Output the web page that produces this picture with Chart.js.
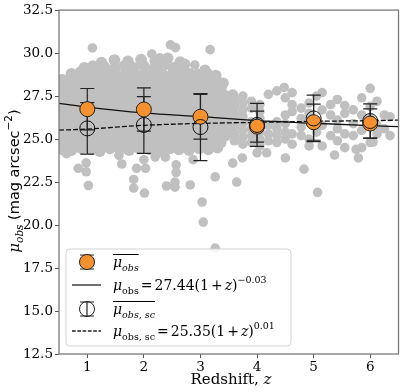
<!DOCTYPE html>
<html>
<head>
<meta charset="utf-8">
<script src="https://cdn.jsdelivr.net/npm/chart.js@4/dist/chart.umd.min.js"></script>
<style>
  html, body { margin: 0; padding: 0; background: #fff; }
  #wrap { width: 407px; height: 392px; }
</style>
</head>
<body>
<div id="wrap"><canvas id="chart" width="407" height="392"></canvas></div>
<script>
// binned means
const zBins = [1, 2, 3, 4, 5, 6];
const muObs = [26.74, 26.72, 26.3, 25.72, 25.98, 25.9];
const muObsErr = [1.2, 1.26, 1.3, 0.9, 1.05, 0.85];
const muSc = [25.62, 25.82, 25.7, 25.82, 26.2, 26.05];
const muScErr = [1.5, 1.65, 1.95, 1.25, 1.35, 1.0];

// fitted curves
const fitZ = [0.5, 1, 2, 3, 4, 5, 6, 6.5];
const fitObs = [27.08, 26.86, 26.52, 26.3, 26.07, 25.92, 25.78, 25.72];
const fitSc = [25.52, 25.58, 25.8, 25.91, 25.97, 26.03, 26.07, 26.1];

const yTicks = [12.5, 15.0, 17.5, 20.0, 22.5, 25.0, 27.5, 30.0, 32.5];
const xTicks = [1, 2, 3, 4, 5, 6];

// individual galaxies [z, mu]: the crowded low-z cloud
const cloudCore = [
  [1.25,29.45],[1.48,29.6],[1.72,29.52],[1.95,29.62],[2.2,29.55],[2.42,29.7],[2.64,29.48],
  [0.95,29.15],[1.1,29.25],[1.3,29.2],[1.48,29.1],[1.65,29.25],[1.82,29.15],[2.0,29.25],[2.18,29.1],[2.35,29.3],[2.52,29.15],[2.72,29.35],[3.08,29.0],
  [0.72,28.8],[0.88,28.9],[1.04,28.75],[1.2,28.85],[1.36,28.8],[1.52,28.7],[1.68,28.85],[1.84,28.8],[2.0,28.75],[2.16,28.85],[2.32,28.8],[2.48,28.7],[2.64,28.85],[2.8,28.8],[2.96,28.75],[3.12,28.8],[3.27,28.7],
  [0.56,28.45],[0.7,28.35],[0.86,28.4],[1.02,28.45],[1.18,28.35],[1.34,28.4],[1.5,28.45],[1.66,28.35],[1.82,28.4],[1.98,28.45],[2.14,28.35],[2.3,28.4],[2.46,28.45],[2.62,28.35],[2.78,28.4],[2.94,28.45],[3.1,28.35],[3.24,28.4],[3.4,28.25],
  [0.52,28.0],[0.64,27.95],[0.8,28.05],[0.96,28.0],[1.12,27.95],[1.28,28.05],[1.44,28.0],[1.6,27.95],[1.76,28.05],[1.92,28.0],[2.08,27.95],[2.24,28.05],[2.4,28.0],[2.56,27.95],[2.72,28.05],[2.88,28.0],[3.04,27.95],[3.2,28.05],[3.36,27.9],
  [0.56,27.6],[0.72,27.55],[0.88,27.65],[1.04,27.6],[1.2,27.55],[1.36,27.65],[1.52,27.6],[1.68,27.55],[1.84,27.65],[2.0,27.6],[2.16,27.55],[2.32,27.65],[2.48,27.6],[2.64,27.55],[2.8,27.65],[2.96,27.6],[3.12,27.55],[3.28,27.65],[3.44,27.5],[3.57,27.56],
  [0.52,27.2],[0.64,27.25],[0.8,27.15],[0.96,27.2],[1.12,27.25],[1.28,27.15],[1.44,27.2],[1.6,27.25],[1.76,27.15],[1.92,27.2],[2.08,27.25],[2.24,27.15],[2.4,27.2],[2.56,27.25],[2.72,27.15],[2.88,27.2],[3.04,27.25],[3.2,27.15],[3.36,27.2],[3.52,27.1],
  [0.56,26.8],[0.72,26.85],[0.88,26.75],[1.04,26.8],[1.2,26.85],[1.36,26.75],[1.52,26.8],[1.68,26.85],[1.84,26.75],[2.0,26.8],[2.16,26.85],[2.32,26.75],[2.48,26.8],[2.64,26.85],[2.8,26.75],[2.96,26.8],[3.12,26.85],[3.28,26.75],[3.44,26.8],
  [0.52,26.4],[0.64,26.35],[0.8,26.45],[0.96,26.4],[1.12,26.35],[1.28,26.45],[1.44,26.4],[1.6,26.35],[1.76,26.45],[1.92,26.4],[2.08,26.35],[2.24,26.45],[2.4,26.4],[2.56,26.35],[2.72,26.45],[2.88,26.4],[3.04,26.35],[3.2,26.45],[3.36,26.4],[3.52,26.35],
  [0.56,26.0],[0.72,26.05],[0.88,25.95],[1.04,26.0],[1.2,26.05],[1.36,25.95],[1.52,26.0],[1.68,26.05],[1.84,25.95],[2.0,26.0],[2.16,26.05],[2.32,25.95],[2.48,26.0],[2.64,26.05],[2.8,25.95],[2.96,26.0],[3.12,26.05],[3.28,25.95],[3.44,26.0],
  [0.52,25.6],[0.64,25.55],[0.8,25.65],[0.96,25.6],[1.12,25.55],[1.28,25.65],[1.44,25.6],[1.6,25.55],[1.76,25.65],[1.92,25.6],[2.08,25.55],[2.24,25.65],[2.4,25.6],[2.56,25.55],[2.72,25.65],[2.88,25.6],[3.04,25.55],[3.2,25.65],[3.36,25.6],[3.52,25.55],
  [0.56,25.2],[0.72,25.25],[0.88,25.15],[1.04,25.2],[1.2,25.25],[1.36,25.15],[1.52,25.2],[1.68,25.25],[1.84,25.15],[2.0,25.2],[2.16,25.25],[2.32,25.15],[2.48,25.2],[2.64,25.25],[2.8,25.15],[2.96,25.2],[3.12,25.25],[3.28,25.15],[3.44,25.2],
  [0.52,24.8],[0.64,24.85],[0.8,24.75],[0.96,24.8],[1.12,24.85],[1.28,24.75],[1.44,24.8],[1.6,24.85],[1.76,24.75],[1.92,24.8],[2.08,24.85],[2.24,24.75],[2.4,24.8],[2.56,24.85],[2.72,24.75],[2.88,24.8],[3.04,24.85],[3.2,24.75],[3.36,24.8],
  [0.56,24.4],[0.72,24.35],[0.9,24.45],[1.06,24.4],[1.22,24.3],[1.4,24.45],[1.58,24.4],[1.74,24.35],[1.92,24.45],[2.1,24.4],[2.28,24.3],[2.46,24.45],[2.62,24.4],[2.8,24.35],[2.98,24.45],[3.14,24.4],[3.3,24.5]
];

// sparser galaxies at higher z and the outliers
const cloudSparse = [
  [1.09,30.3],[2.14,29.95],[2.47,30.48],[2.56,30.32],[3.17,30.2],[2.9,29.3],[2.28,29.72],[4.48,28.0],
  [3.6,27.3],[3.6,26.9],[3.6,26.5],[3.6,26.1],[3.6,25.7],[3.6,25.3],[3.6,24.9],
  [3.75,27.5],[3.75,27.1],[3.75,26.7],[3.75,26.3],[3.75,25.9],[3.75,25.5],[3.75,25.1],[3.75,24.7],
  [3.9,27.2],[3.9,26.8],[3.9,26.0],[3.9,25.6],[3.9,25.2],[3.9,24.8],
  [4.05,27.0],[4.05,26.6],[4.05,26.2],[4.05,25.4],[4.05,25.0],[4.05,24.6],
  [4.2,27.6],[4.2,25.8],[4.2,25.3],[4.2,24.9],
  [4.35,27.8],[4.35,26.0],[4.35,25.6],[4.35,25.2],[4.35,24.8],
  [4.5,27.4],[4.5,26.4],[4.5,25.9],[4.5,25.4],[4.5,25.0],
  [4.62,27.7],[4.62,27.0],[4.62,26.6],[4.62,25.3],[4.62,24.7],
  [4.78,26.8],[4.78,26.2],[4.78,25.7],[4.78,25.2],
  [4.92,27.1],[4.92,26.5],[4.92,25.0],[4.92,24.6],
  [5.05,27.5],[5.05,26.0],[5.05,25.4],
  [5.15,27.7],[5.15,26.7],[5.15,25.8],[5.15,24.6],
  [5.3,27.0],[5.3,26.4],[5.3,25.2],
  [5.42,27.3],[5.42,26.1],[5.42,25.6],[5.42,24.9],
  [5.55,26.95],[5.55,26.5],[5.55,25.3],[5.55,24.5],
  [5.7,26.7],[5.7,25.9],[5.7,25.2],
  [5.85,27.4],[5.85,26.4],[5.85,25.5],[5.85,24.5],
  [6.0,27.95],[6.0,26.9],[6.0,26.2],[6.0,24.8],
  [6.12,27.2],[6.12,25.8],[6.12,25.3],
  [6.25,26.4],[6.25,25.6],[6.35,26.3],[6.35,25.2],
  [0.63,24.15],[0.84,23.3],[0.98,23.62],[0.98,23.1],[1.02,22.3],[1.56,24.05],[1.61,23.55],
  [1.82,22.65],[1.82,22.15],[1.87,23.3],[2.0,23.8],[2.01,21.86],[2.03,23.3],[2.2,23.95],
  [2.38,23.95],[2.4,22.27],[2.57,23.5],[2.57,23.05],[2.55,22.5],[2.55,22.2],[2.82,22.33],
  [2.87,23.8],[3.03,21.34],[3.05,20.17],[3.26,18.66],[3.26,22.8],[3.57,23.6],[3.64,22.5],
  [3.74,23.9],[4.0,24.2],[4.17,24.2],[4.5,23.9],[4.83,23.25],[5.07,21.9],[5.37,24.07],
  [5.79,23.9],[5.75,24.4],[6.05,24.83]
];

const SERIF = '"DejaVu Serif", serif';
const SANS = '"DejaVu Sans", sans-serif';
const ORANGE = '#f5922f';
const GREY = '#c0c0c0';

function pts(xs, ys) { return xs.map((x, i) => ({ x: x, y: ys[i] })); }

// runs: [text, font, dy, extra gap after]
function drawRuns(ctx, runs, x, y) {
  for (const r of runs) {
    ctx.font = r[1];
    ctx.fillText(r[0], x, y + (r[2] || 0));
    x += ctx.measureText(r[0]).width + (r[3] || 0);
  }
  return x;
}
function runsWidth(ctx, runs) {
  let w = 0;
  for (const r of runs) { ctx.font = r[1]; w += ctx.measureText(r[0]).width + (r[3] || 0); }
  return w;
}

function errBar(ctx, x, y, r, cap) {
  ctx.beginPath();
  ctx.moveTo(x, y - r); ctx.lineTo(x, y + r);
  ctx.moveTo(x - cap, y - r); ctx.lineTo(x + cap, y - r);
  ctx.moveTo(x - cap, y + r); ctx.lineTo(x + cap, y + r);
  ctx.stroke();
}

const errorBars = {
  id: 'errorBars',
  beforeDatasetDraw(chart, args) {
    if (args.index !== 2) return;
    const ctx = chart.ctx, xs = chart.scales.x, ys = chart.scales.y;
    ctx.save();
    ctx.strokeStyle = '#222';
    ctx.lineWidth = 1.2;
    const sets = [[muObs, muObsErr], [muSc, muScErr]];
    for (const [m, e] of sets) {
      zBins.forEach((z, i) => {
        const px = xs.getPixelForValue(z);
        const top = ys.getPixelForValue(m[i] + e[i]);
        const bot = ys.getPixelForValue(m[i] - e[i]);
        ctx.beginPath();
        ctx.moveTo(px, top); ctx.lineTo(px, bot);
        ctx.moveTo(px - 7, top); ctx.lineTo(px + 7, top);
        ctx.moveTo(px - 7, bot); ctx.lineTo(px + 7, bot);
        ctx.stroke();
      });
    }
    ctx.restore();
  }
};

const decorations = {
  id: 'decorations',
  afterDatasetsDraw(chart) {
    const ctx = chart.ctx, a = chart.chartArea;
    ctx.save();
    ctx.strokeStyle = '#7a7a7a';
    ctx.lineWidth = 1.3;
    ctx.strokeRect(a.left, a.top, a.right - a.left, a.bottom - a.top);
    ctx.restore();
  },
  afterDraw(chart) {
    const ctx = chart.ctx;
    ctx.save();
    ctx.fillStyle = '#000';
    ctx.textBaseline = 'alphabetic';

    // x title
    const xt = [['Redshift, ', '15px ' + SERIF], ['z', 'italic 15px ' + SERIF]];
    const xw = runsWidth(ctx, xt);
    drawRuns(ctx, xt, 231 - xw / 2, 384);

    // y title
    const yt = [['μ', 'italic 15px ' + SERIF], ['obs', 'italic 10.5px ' + SERIF, 4],
      [' (mag arcsec', '14.5px ' + SANS], ['−2', '10.5px ' + SANS, -7], [')', '14.5px ' + SANS]];
    const yw = runsWidth(ctx, yt);
    ctx.save();
    ctx.translate(19, 181);
    ctx.rotate(-Math.PI / 2);
    drawRuns(ctx, yt, -yw / 2, 0);
    ctx.restore();

    // legend
    const bx = 66, by = 249, bw = 225, bh = 97;
    ctx.beginPath();
    ctx.roundRect(bx, by, bw, bh, 4);
    ctx.fillStyle = 'rgba(255,255,255,0.85)';
    ctx.fill();
    ctx.strokeStyle = '#d2d2d2';
    ctx.lineWidth = 1;
    ctx.stroke();

    const hx = 87, tx = 113;
    const rows = [262, 285, 309, 331];
    ctx.strokeStyle = '#222';
    ctx.lineWidth = 1.2;
    errBar(ctx, hx, rows[0], 7, 7);
    ctx.beginPath(); ctx.arc(hx, rows[0], 7.5, 0, Math.PI * 2);
    ctx.fillStyle = ORANGE; ctx.fill(); ctx.lineWidth = 1; ctx.stroke();
    ctx.lineWidth = 1.3;
    ctx.beginPath(); ctx.moveTo(72, rows[1]); ctx.lineTo(101, rows[1]); ctx.stroke();
    ctx.lineWidth = 1.2;
    errBar(ctx, hx, rows[2], 7, 7);
    ctx.beginPath(); ctx.arc(hx, rows[2], 7.5, 0, Math.PI * 2); ctx.lineWidth = 1; ctx.stroke();
    ctx.lineWidth = 1.3;
    ctx.setLineDash([3.7, 1.6]);
    ctx.beginPath(); ctx.moveTo(72, rows[3]); ctx.lineTo(101, rows[3]); ctx.stroke();
    ctx.setLineDash([]);

    const I = 'italic 14px ' + SERIF, R = '14px ' + SERIF;
    const SI = 'italic 9.5px ' + SERIF, SR = '9.5px ' + SERIF;
    const g = 2;
    ctx.fillStyle = '#000';
    const r1 = [['μ', I], ['obs', SI, 4]];
    const e1 = drawRuns(ctx, r1, tx, rows[0] + 5);
    const r2 = [['μ', I], ['obs', SR, 4, g], ['=', R, 0, g], ['27.44(1', R, 0, g], ['+', R, 0, g],
      ['z', I], [')', R], ['−0.03', SR, -7]];
    drawRuns(ctx, r2, tx, rows[1] + 5);
    const r3 = [['μ', I], ['obs, sc', SI, 4]];
    const e3 = drawRuns(ctx, r3, tx, rows[2] + 5);
    const r4 = [['μ', I], ['obs, sc', SR, 4, g], ['=', R, 0, g], ['25.35(1', R, 0, g], ['+', R, 0, g],
      ['z', I], [')', R], ['0.01', SR, -7]];
    drawRuns(ctx, r4, tx, rows[3] + 5);
    ctx.strokeStyle = '#000';
    ctx.lineWidth = 1;
    ctx.beginPath();
    ctx.moveTo(tx, rows[0] - 7.5); ctx.lineTo(e1, rows[0] - 7.5);
    ctx.moveTo(tx, rows[2] - 7.5); ctx.lineTo(e3, rows[2] - 7.5);
    ctx.stroke();
    ctx.restore();
  }
};

new Chart(document.getElementById('chart').getContext('2d'), {
  type: 'scatter',
  data: {
    datasets: [
      { data: cloudCore.map(p => ({ x: p[0], y: p[1] })), backgroundColor: GREY,
        borderWidth: 0, pointRadius: 5.8, order: 7 },
      { data: cloudSparse.map(p => ({ x: p[0], y: p[1] })), backgroundColor: GREY,
        borderWidth: 0, pointRadius: 4.8, order: 6 },
      { type: 'line', data: pts(fitZ, fitObs), borderColor: '#111', borderWidth: 1.3,
        pointRadius: 0, cubicInterpolationMode: 'monotone', order: 4 },
      { type: 'line', data: pts(fitZ, fitSc), borderColor: '#111', borderWidth: 1.3,
        borderDash: [5, 2], pointRadius: 0, cubicInterpolationMode: 'monotone', order: 3 },
      { data: pts(zBins, muObs), backgroundColor: ORANGE, borderColor: '#222',
        borderWidth: 1, pointRadius: 7.5, order: 2 },
      { data: pts(zBins, muSc), backgroundColor: 'rgba(0,0,0,0)', borderColor: '#111',
        borderWidth: 1, pointRadius: 7.5, order: 1 }
    ]
  },
  options: {
    responsive: false,
    animation: false,
    devicePixelRatio: 1,
    layout: { padding: { left: 0, right: 5, top: 10, bottom: 0 } },
    plugins: { legend: { display: false }, tooltip: { enabled: false } },
    scales: {
      x: {
        type: 'linear', min: 0.5, max: 6.5,
        afterBuildTicks: s => { s.ticks = xTicks.map(v => ({ value: v })); },
        afterFit: s => { s.height = 38; },
        grid: { drawOnChartArea: false, tickLength: 4, color: '#555' },
        border: { display: false },
        ticks: { color: '#000', padding: 1, font: { family: 'DejaVu Serif', size: 13.5 } }
      },
      y: {
        type: 'linear', min: 12.5, max: 32.5,
        afterBuildTicks: s => { s.ticks = yTicks.map(v => ({ value: v })); },
        afterFit: s => { s.width = 59; },
        grid: { drawOnChartArea: false, tickLength: 4, color: '#555' },
        border: { display: false },
        ticks: { color: '#000', padding: 2, font: { family: 'DejaVu Serif', size: 13.5 },
          callback: v => v.toFixed(1) }
      }
    }
  },
  plugins: [errorBars, decorations]
});
</script>
</body>
</html>
